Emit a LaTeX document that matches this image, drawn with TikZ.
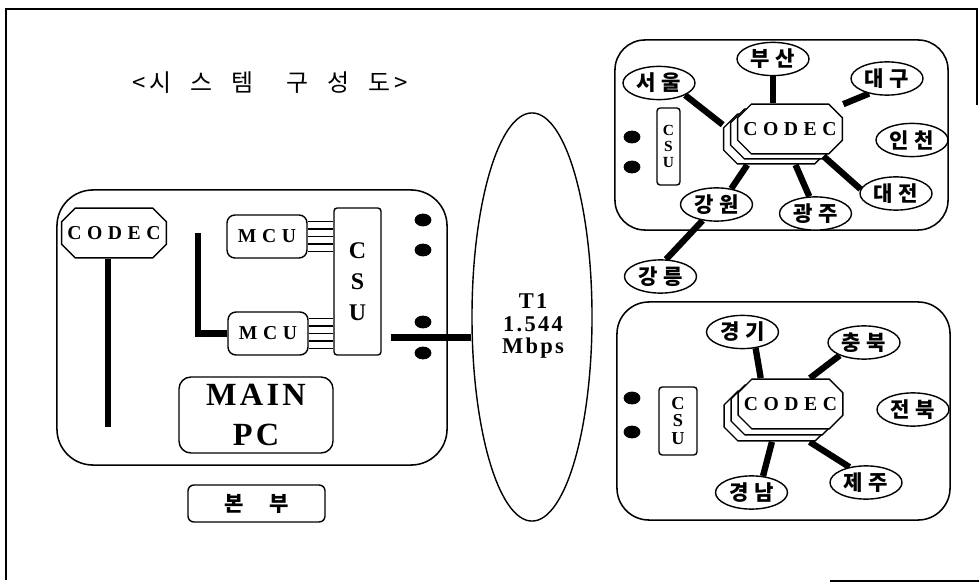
\documentclass[tikz,border=0pt]{standalone}
\usepackage{fontspec}
\setmainfont{Liberation Serif}
\newfontfamily\krfont{Noto Sans CJK KR}
\newfontfamily\widefont[LetterSpace=28]{Liberation Serif}
\newfontfamily\semifont[LetterSpace=10]{Liberation Serif}
\usepackage{tikz}
\usetikzlibrary{
  shapes.geometric,
  positioning, calc,
  backgrounds
}
\tikzset{
  basebox/.style={rectangle,draw=black,line width=1pt,fill=white,align=center,inner sep=1pt},
  regionbox/.style={rectangle,draw=black,line width=1.1pt},
  codecnode/.style={rectangle,minimum width=2.65cm,minimum height=1.28cm,inner sep=0pt,
    font=\widefont\bfseries\fontsize{14}{16}\selectfont,
    path picture={
      \draw[line width=1pt,fill=white]
        ([shift={(0.36cm,-0.5pt)}]path picture bounding box.north west)
        -- ([shift={(-0.36cm,-0.5pt)}]path picture bounding box.north east)
        -- ([shift={(-0.5pt,-0.36cm)}]path picture bounding box.north east)
        -- ([shift={(-0.5pt,0.36cm)}]path picture bounding box.south east)
        -- ([shift={(-0.36cm,0.5pt)}]path picture bounding box.south east)
        -- ([shift={(0.36cm,0.5pt)}]path picture bounding box.south west)
        -- ([shift={(0.5pt,0.36cm)}]path picture bounding box.south west)
        -- ([shift={(0.5pt,-0.36cm)}]path picture bounding box.north west)
        -- cycle;
    }},
  mcunode/.style={basebox,rounded corners=0.2cm,minimum width=2cm,minimum height=1.075cm,
    font=\widefont\bfseries\fontsize{14}{16}\selectfont},
  csunode/.style={basebox,rounded corners=0.08cm,font=\semifont\bfseries},
  pcnode/.style={basebox,rounded corners=0.3cm,minimum width=3.85cm,minimum height=1.9cm,
    font=\semifont\bfseries\fontsize{23}{28}\selectfont},
  hqlabel/.style={basebox,rounded corners=0.15cm,minimum width=3.425cm,minimum height=0.925cm,
    font=\krfont\bfseries\fontsize{15}{17}\selectfont},
  citynode/.style={ellipse,draw=black,line width=1pt,fill=white,minimum width=1.8cm,minimum height=0.83cm,
    inner sep=0pt,font=\krfont\bfseries\fontsize{15}{17}\selectfont},
  dotnode/.style={ellipse,fill=black,minimum width=0.42cm,minimum height=0.32cm,inner sep=0pt},
  trunknode/.style={ellipse,draw=black,line width=1pt,minimum width=3cm,minimum height=10.2cm},
  link/.style={line width=4.5pt,color=black},
  busline/.style={line width=1.2pt,color=black},
  frame/.style={line width=0.8pt,color=black}
}
\newcommand{\kgap}{\hspace{0.25em}}

\begin{document}
\begin{tikzpicture}[x=0.025cm,y=-0.025cm]
  \useasboundingbox (0,0) rectangle (979,583);

  % scanned page frame
  \draw[frame] (6,580) -- (6,9) -- (977,9) -- (977,105);
  \draw[frame] (830,581) -- (979,581);

  \node[font=\krfont\fontsize{17}{19}\selectfont] (title) at (270,83)
    {<\hspace{0.15em}시\hspace{0.8em}스\hspace{0.8em}템\hspace{1.4em}구\hspace{0.8em}성\hspace{0.8em}도\hspace{0.15em}>};

  % headquarters
  \node[regionbox,rounded corners=0.9cm,minimum width=9.75cm,minimum height=6.875cm] (hq) at (252,327.5) {};
  \node[codecnode] (codecL) at (114,233) {CODEC};
  \node[mcunode] (mcuT) at (267,236.5) {MCU};
  \node[mcunode] (mcuB) at (268,333.5) {MCU};
  \node[csunode,minimum width=1.175cm,minimum height=3.675cm,font=\semifont\bfseries\fontsize{17}{22}\selectfont]
    (csuL) at (357.5,281.5) {C\\S\\U};
  \node[pcnode] (mainpc) at (256,415) {MAIN\\PC};
  \node[hqlabel] (hqname) at (256.5,503.5) {본\hspace{1.2em}부};
  \foreach \y [count=\i] in {220,250,322,353}
    \node[dotnode] (dotL\i) at (423,\y) {};
  \coordinate (cbot) at (108,427);
  \coordinate (lbend) at (198,233);
  \coordinate (tap) at ($(csuL.east)+(9,56)$);

  % T1 trunk
  \node[trunknode] (t1) at (532,317) {};
  \node[align=center,font=\semifont\bfseries\fontsize{16}{16}\selectfont] (t1text) at (533,326) {T1\\1.544\\Mbps};

  % region A
  \node[regionbox,rounded corners=0.75cm,minimum width=8.325cm,minimum height=4.75cm] (regA) at (781.5,135) {};
  \foreach \y [count=\i] in {137,167}
    \node[dotnode] (dotA\i) at (632,\y) {};
  \node[csunode,minimum width=0.575cm,minimum height=1.925cm,font=\semifont\bfseries\fontsize{11}{11.5}\selectfont]
    (csuR) at (668.5,146.5) {C\\S\\U};
  \node[codecnode] (codecRc) at (776,139) {};
  \node[codecnode] (codecRb) at (783,134) {};
  \node[codecnode] (codecR) at (790,129) {CODEC};
  \node[citynode] (seoul) at (659,83) {서\kgap 울};
  \node[citynode] (busan) at (773,59) {부\kgap 산};
  \node[citynode] (daegu) at (887,78.5) {대\kgap 구};
  \node[citynode] (incheon) at (912,140) {인\kgap 천};
  \node[citynode] (daejeon) at (896,193.5) {대\kgap 전};
  \node[citynode] (gwangju) at (815.5,213.5) {광\kgap 주};
  \node[citynode] (gangwon) at (716.5,204.5) {강\kgap 원};
  \node[citynode] (gangneung) at (660.5,276.5) {강\kgap 릉};

  % region B
  \node[regionbox,rounded corners=0.8cm,minimum width=8.325cm,minimum height=5.45cm] (regB) at (783.5,411) {};
  \foreach \y [count=\i] in {398,432}
    \node[dotnode] (dotB\i) at (632,\y) {};
  \node[csunode,minimum width=0.95cm,minimum height=1.7cm,font=\semifont\bfseries\fontsize{13}{12.5}\selectfont]
    (csuS) at (678,421) {C\\S\\U};
  \node[codecnode] (codecSc) at (776.5,416) {};
  \node[codecnode] (codecSb) at (783.5,410) {};
  \node[codecnode] (codecS) at (790.5,404) {CODEC};
  \node[citynode] (gyeonggi) at (742.5,332) {경\kgap 기};
  \node[citynode] (chungbuk) at (864,342.5) {충\kgap 북};
  \node[citynode] (jeonbuk) at (913,409.5) {전\kgap 북};
  \node[citynode] (jeju) at (866,482.5) {제\kgap 주};
  \node[citynode] (gyeongnam) at (751.5,492.5) {경\kgap 남};

  \begin{pgfonlayer}{background}
    \draw[link] (codecL.south -| cbot) -- (cbot);
    \draw[link] (lbend) |- (mcuB.west);
    \foreach \dy in {-15,-7.5,0,7.5,15} {
      \draw[busline] ($(mcuT.east)+(0,\dy)$) -- ($(mcuT.east -| csuL.west)+(0,\dy)$);
      \draw[busline] ($(mcuB.east)+(0,\dy)$) -- ($(mcuB.east -| csuL.west)+(0,\dy)$);
    }
    \draw[link] (tap) -- (tap -| t1.west);

    \draw[link] (seoul.-25) -- (codecRc.165);
    \draw[link] (busan.south) -- (busan.south |- codecR.north);
    \draw[link] (daegu.-140) -- (codecR.25);
    \draw[link] (codecR.-39) -- (daejeon.173);
    \draw[link] (codecRc.-53) -- (gwangju.110);
    \draw[link] (codecRc.-138) -- (gangwon.47);
    \draw[link] (gangwon.-131) -- (gangneung.72);

    \draw[link] (gyeonggi.-51) -- (codecS.139);
    \draw[link] (chungbuk.-152) -- (codecS.53);
    \draw[link] (codecSc.-38) -- (jeju.137);
    \draw[link] (codecSc.-100) -- (gyeongnam.55);
  \end{pgfonlayer}
\end{tikzpicture}
\end{document}
